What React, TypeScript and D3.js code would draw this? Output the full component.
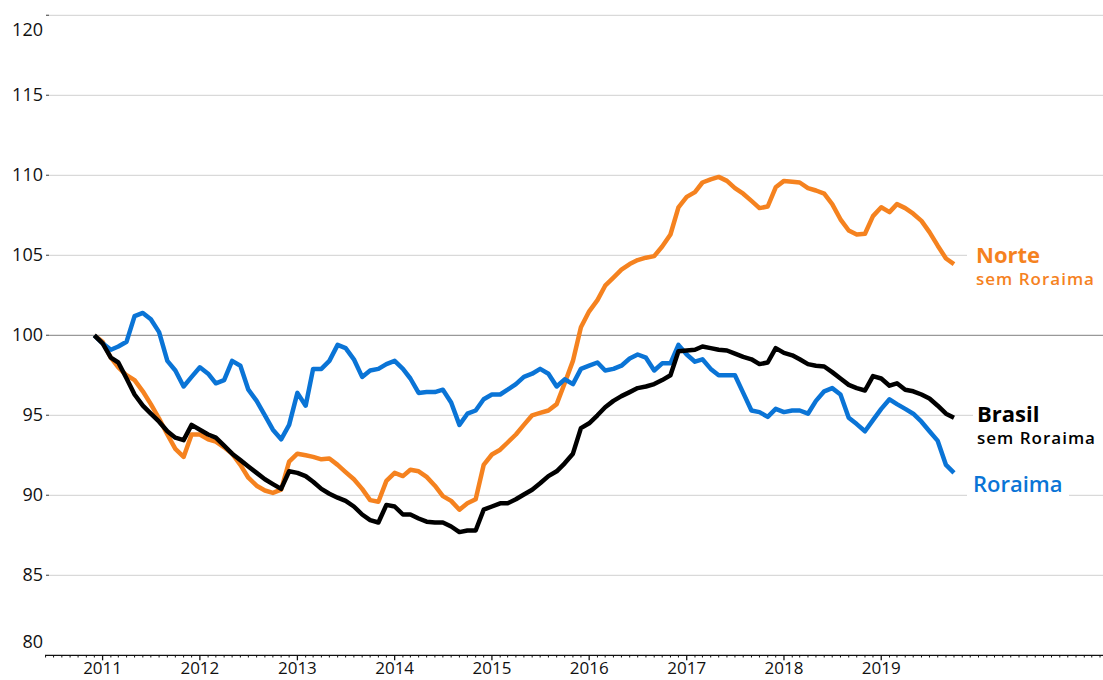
import React, { useEffect, useRef } from 'react';
import * as d3 from 'd3';

// monthly index values, Dec 2010 = 100, through Oct 2019
const firstMonth = new Date(2010, 11, 1);

const norte = [
  100.0, 99.6, 98.6, 98.0, 97.5, 97.2, 96.5, 95.7, 94.8, 93.8, 92.9, 92.4,
  93.8, 93.8, 93.5, 93.35, 93.0, 92.6, 91.9, 91.1, 90.6, 90.3, 90.15, 90.35,
  92.1, 92.6, 92.5, 92.4, 92.25, 92.3, 91.9, 91.45, 91.0, 90.4, 89.7, 89.6,
  90.9, 91.4, 91.2, 91.6, 91.5, 91.15, 90.6, 89.95, 89.65, 89.1, 89.5, 89.75,
  91.9, 92.55, 92.85, 93.3, 93.8, 94.4, 95.0, 95.15, 95.3, 95.7, 97.0, 98.4,
  100.5, 101.5, 102.2, 103.1, 103.6, 104.1, 104.45, 104.7, 104.85, 104.95, 105.55, 106.3,
  108.0, 108.65, 108.95, 109.55, 109.75, 109.9, 109.65, 109.2, 108.85, 108.4, 107.95, 108.05,
  109.25, 109.65, 109.6, 109.55, 109.2, 109.05, 108.85, 108.2, 107.25, 106.55, 106.3, 106.35,
  107.45, 108.0, 107.7, 108.2, 107.95, 107.6, 107.15, 106.45, 105.6, 104.8, 104.45,
];

const brasil = [
  100.0, 99.5, 98.6, 98.3, 97.3, 96.3, 95.6, 95.1, 94.6, 94.0, 93.6, 93.45,
  94.4, 94.1, 93.8, 93.6, 93.1, 92.6, 92.2, 91.8, 91.4, 91.0, 90.7, 90.4,
  91.5, 91.4, 91.2, 90.85, 90.4, 90.1, 89.85, 89.65, 89.3, 88.8, 88.45, 88.3,
  89.4, 89.3, 88.8, 88.8, 88.55, 88.35, 88.3, 88.3, 88.05, 87.7, 87.8, 87.8,
  89.1, 89.3, 89.5, 89.5, 89.75, 90.05, 90.35, 90.75, 91.2, 91.5, 92.0, 92.6,
  94.2, 94.5, 95.0, 95.5, 95.9, 96.2, 96.45, 96.7, 96.8, 96.95, 97.2, 97.5,
  99.0, 99.05, 99.1, 99.3, 99.2, 99.1, 99.05, 98.85, 98.65, 98.5, 98.2, 98.3,
  99.2, 98.9, 98.75, 98.5, 98.2, 98.1, 98.05, 97.7, 97.3, 96.9, 96.7, 96.55,
  97.45, 97.3, 96.85, 97.0, 96.6, 96.5, 96.3, 96.05, 95.6, 95.1, 94.85,
];

const roraima = [
  100.0, 99.5, 99.1, 99.3, 99.6, 101.2, 101.4, 101.0, 100.2, 98.4, 97.8, 96.8,
  97.4, 98.0, 97.6, 97.0, 97.2, 98.4, 98.1, 96.6, 95.9, 95.0, 94.1, 93.5,
  94.4, 96.4, 95.6, 97.9, 97.9, 98.4, 99.4, 99.2, 98.5, 97.4, 97.8, 97.9,
  98.2, 98.4, 97.9, 97.3, 96.4, 96.45, 96.45, 96.6, 95.8, 94.4, 95.1, 95.3,
  96.0, 96.3, 96.3, 96.6, 96.95, 97.4, 97.6, 97.9, 97.6, 96.8, 97.25, 96.95,
  97.9, 98.1, 98.3, 97.8, 97.9, 98.1, 98.55, 98.8, 98.6, 97.8, 98.25, 98.25,
  99.4, 98.8, 98.35, 98.5, 97.9, 97.5, 97.5, 97.5, 96.4, 95.3, 95.2, 94.9,
  95.4, 95.2, 95.3, 95.3, 95.1, 95.9, 96.5, 96.7, 96.3, 94.85, 94.45, 94.0,
  94.7, 95.4, 96.0, 95.7, 95.4, 95.1, 94.6, 94.0, 93.4, 91.9, 91.4,
];

const yTicks = [80, 85, 90, 95, 100, 105, 110, 115, 120];
const years = [2011, 2012, 2013, 2014, 2015, 2016, 2017, 2018, 2019];

const FONT = '"Open Sans", sans-serif';
const ORANGE = '#f5821f';
const BLUE = '#0a74d6';
const BLACK = '#000000';

const App = () => {
  const chartRef = useRef<SVGSVGElement>(null);

  useEffect(() => {
    if (!chartRef.current) return;
    const svg = d3.select(chartRef.current);
    svg.selectAll('*').remove();

    const width = 1103;
    const gridLeft = 49;
    const axisLeft = 45;

    const x = d3.scaleTime()
      .domain([new Date(2011, 0, 1), new Date(2020, 0, 1)])
      .range([102.6, 978.5]);

    const y = d3.scaleLinear()
      .domain([80, 120])
      .range([655.3, 15.3]);

    const months = norte.map((_, i) => d3.timeMonth.offset(firstMonth, i));

    // gridlines
    svg.append('g')
      .selectAll('line')
      .data(yTicks.filter(v => v !== 80))
      .enter().append('line')
      .attr('x1', gridLeft)
      .attr('x2', width)
      .attr('y1', d => y(d))
      .attr('y2', d => y(d))
      .attr('stroke', d => d === 100 ? '#999' : '#d9d9d9')
      .attr('stroke-width', 1.3);

    // y tick dashes
    svg.append('g')
      .selectAll('line')
      .data(yTicks.filter(v => v !== 80))
      .enter().append('line')
      .attr('x1', 46)
      .attr('x2', gridLeft)
      .attr('y1', d => y(d))
      .attr('y2', d => y(d))
      .attr('stroke', '#666')
      .attr('stroke-width', 1.3);

    // y labels
    svg.append('g')
      .selectAll('text')
      .data(yTicks)
      .enter().append('text')
      .attr('x', 43)
      .attr('y', d => d === 120 ? y(d) + 20.5 : d === 80 ? y(d) - 7 : y(d) + 5.5)
      .attr('text-anchor', 'end')
      .attr('font-family', FONT)
      .attr('font-size', 18)
      .attr('fill', '#111')
      .text(d => d);

    // x axis
    const axisY = y(80);
    svg.append('line')
      .attr('x1', axisLeft)
      .attr('x2', width)
      .attr('y1', axisY)
      .attr('y2', axisY)
      .attr('stroke', '#111')
      .attr('stroke-width', 1.2);

    const isYearTick = (d: Date) => d.getMonth() === 0 && years.includes(d.getFullYear());
    const tickMonths = d3.timeMonth.range(x.invert(axisLeft), x.invert(width));
    svg.append('g')
      .selectAll('line')
      .data(tickMonths)
      .enter().append('line')
      .attr('x1', d => x(d))
      .attr('x2', d => x(d))
      .attr('y1', axisY)
      .attr('y2', d => axisY + (isYearTick(d) ? 5 : 2.2))
      .attr('stroke', '#111')
      .attr('stroke-width', d => isYearTick(d) ? 1.3 : 1);

    svg.append('g')
      .selectAll('text')
      .data(years)
      .enter().append('text')
      .attr('x', d => x(new Date(d, 0, 1)))
      .attr('y', 674)
      .attr('text-anchor', 'middle')
      .attr('font-family', FONT)
      .attr('font-size', 17)
      .attr('fill', '#111')
      .text(d => d);

    // series
    const line = d3.line<number>()
      .x((_, i) => x(months[i]))
      .y(d => y(d));

    const series = [
      { values: norte, color: ORANGE },
      { values: roraima, color: BLUE },
      { values: brasil, color: BLACK },
    ];

    svg.append('g')
      .selectAll('path')
      .data(series)
      .enter().append('path')
      .attr('d', d => line(d.values))
      .attr('fill', 'none')
      .attr('stroke', d => d.color)
      .attr('stroke-width', 4.5)
      .attr('stroke-linejoin', 'round')
      .attr('stroke-linecap', 'butt');

    // label backgrounds hide the gridlines behind the labels
    const bg = svg.append('g');
    bg.append('rect').attr('x', 967).attr('y', 236).attr('width', 136).attr('height', 56).attr('fill', '#fff');
    bg.append('rect').attr('x', 973).attr('y', 398).attr('width', 130).attr('height', 52).attr('fill', '#fff');
    bg.append('rect').attr('x', 967).attr('y', 474).attr('width', 102).attr('height', 24).attr('fill', '#fff');

    const labels = svg.append('g').attr('font-family', FONT);
    labels.append('text')
      .attr('x', 976).attr('y', 263)
      .attr('font-size', 22).attr('font-weight', 700)
      .attr('fill', ORANGE)
      .text('Norte');
    labels.append('text')
      .attr('x', 976).attr('y', 285)
      .attr('font-size', 17).attr('font-weight', 600)
      .attr('letter-spacing', 1)
      .attr('fill', ORANGE)
      .text('sem Roraima');
    labels.append('text')
      .attr('x', 977).attr('y', 421.5)
      .attr('font-size', 22).attr('font-weight', 700)
      .attr('fill', BLACK)
      .text('Brasil');
    labels.append('text')
      .attr('x', 977).attr('y', 443.5)
      .attr('font-size', 17).attr('font-weight', 600)
      .attr('letter-spacing', 1)
      .attr('fill', BLACK)
      .text('sem Roraima');
    labels.append('text')
      .attr('x', 973).attr('y', 491.5)
      .attr('font-size', 22).attr('font-weight', 600)
      .attr('fill', BLUE)
      .text('Roraima');
  }, []);

  return (
    <div style={{ position: 'absolute', left: 0, top: 0 }}>
      <svg ref={chartRef} width={1103} height={680} style={{ display: 'block' }}></svg>
    </div>
  );
};

export default App;
